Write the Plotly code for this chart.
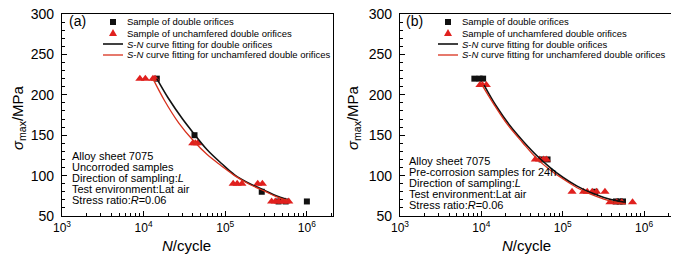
import plotly.graph_objects as go

W, H = 679, 264
OFF = 8  # page body margin of the browser
FONT = "Liberation Sans, Arial, sans-serif"
BLACK = "#111111"
RED_M = "#e0201e"
RED_L = "#d8301c"

# ---------------- data: panel (a) uncorroded ----------------
a_sq_N = [1.45e4, 4.2e4, 2.8e5, 4.5e5, 5.5e5, 1.0e6]
a_sq_S = [220, 150, 80, 68, 68, 68]
a_tri_N = [9.0e3, 1.05e4, 1.3e4, 1.38e4, 4.0e4, 4.3e4, 4.6e4,
           1.25e5, 1.4e5, 1.6e5, 2.5e5, 2.85e5,
           3.7e5, 4.1e5, 4.5e5, 5.0e5, 5.5e5, 6.0e5]
a_tri_S = [220, 220, 220, 220, 140, 140, 140,
           90, 90, 90, 90, 90,
           68, 68, 68, 68, 68, 68]
a_fit1_N = [1.45e4, 2e4, 3e4, 4.2e4, 6e4, 9e4, 1.3e5, 2e5, 3e5, 4.2e5, 5.5e5]
a_fit1_S = [220, 196, 170, 151, 132, 115, 101, 90, 82, 75, 71]
a_fit2_N = [1.3e4, 1.8e4, 2.7e4, 4e4, 6e4, 9e4, 1.3e5, 2e5, 3e5, 4.2e5, 5.8e5]
a_fit2_S = [220, 193, 165, 144, 126, 112, 100, 89, 81, 74, 69]

# ---------------- data: panel (b) pre-corrosion 24h ----------------
b_sq_N = [8.2e3, 9.5e3, 1.05e4, 5.5e4, 6.5e4, 2.5e5, 4.5e5, 5.0e5, 5.5e5]
b_sq_S = [220, 220, 220, 120, 120, 80, 68, 68, 68]
b_tri_N = [9.6e3, 1.03e4, 1.15e4, 4.6e4, 5.2e4, 5.8e4, 6.3e4,
           1.3e5, 1.8e5, 2.0e5, 2.3e5, 2.6e5, 3.3e5,
           3.8e5, 4.6e5, 5.3e5, 7.2e5]
b_tri_S = [212, 212, 212, 120, 120, 120, 120,
           80, 80, 80, 80, 80, 80,
           67, 67, 67, 67]
b_fit1_N = [1.08e4, 1.5e4, 2.2e4, 3.3e4, 5e4, 7e4, 1e5, 1.5e5, 2.2e5, 3.2e5, 4.5e5, 5.8e5]
b_fit1_S = [212, 187, 163, 142, 123, 110, 98, 87, 79, 73, 69, 67]
b_fit2_N = [1.02e4, 1.45e4, 2.1e4, 3.2e4, 4.8e4, 6.8e4, 1e5, 1.5e5, 2.2e5, 3.2e5, 4.5e5, 5.8e5]
b_fit2_S = [212, 187, 163, 141, 121, 108, 96, 85, 77, 71, 67, 65]

x_ticks = [1e3, 1e4, 1e5, 1e6]
x_ticktext = ["10<sup>3</sup>", "10<sup>4</sup>", "10<sup>5</sup>", "10<sup>6</sup>"]
y_ticks = [50, 100, 150, 200, 250, 300]

legend_labels = ["Sample of double orifices",
                 "Sample of unchamfered double orifices",
                 "<i>S</i>-<i>N</i> curve fitting for double orifices",
                 "<i>S</i>-<i>N</i> curve fitting for unchamfered double orifices"]
info_a = ["Alloy sheet 7075", "Uncorroded samples", "Direction of sampling:<i>L</i>",
          "Test environment:Lat air", "Stress ratio:<i>R</i>=0.06"]
info_b = ["Alloy sheet 7075", "Pre-corrosion samples for 24h", "Direction of sampling:<i>L</i>",
          "Test environment:Lat air", "Stress ratio:<i>R</i>=0.06"]

fig = go.Figure()

def add_panel(xa, ya, sqN, sqS, trN, trS, f1N, f1S, f2N, f2S):
    fig.add_trace(go.Scatter(x=sqN, y=sqS, mode="markers", xaxis=xa, yaxis=ya,
                             marker=dict(symbol="square", size=6, color=BLACK), showlegend=False))
    fig.add_trace(go.Scatter(x=trN, y=trS, mode="markers", xaxis=xa, yaxis=ya,
                             marker=dict(symbol="triangle-up", size=8, color=RED_M), showlegend=False))
    fig.add_trace(go.Scatter(x=f1N, y=f1S, mode="lines", xaxis=xa, yaxis=ya,
                             line=dict(color=BLACK, width=1.6, shape="spline"), showlegend=False))
    fig.add_trace(go.Scatter(x=f2N, y=f2S, mode="lines", xaxis=xa, yaxis=ya,
                             line=dict(color=RED_L, width=1.3, shape="spline"), showlegend=False))

add_panel("x", "y", a_sq_N, a_sq_S, a_tri_N, a_tri_S, a_fit1_N, a_fit1_S, a_fit2_N, a_fit2_S)
add_panel("x2", "y2", b_sq_N, b_sq_S, b_tri_N, b_tri_S, b_fit1_N, b_fit1_S, b_fit2_N, b_fit2_S)

def xaxis_cfg(domain, rng):
    return dict(domain=domain, type="log", range=rng, tickvals=x_ticks, ticktext=x_ticktext,
                ticks="inside", ticklen=5, tickwidth=1, tickcolor="black",
                minor=dict(ticks="inside", ticklen=3, tickwidth=1, tickcolor="black", dtick="D1"),
                showline=True, linecolor="black", linewidth=1.3, mirror=True,
                showgrid=False, zeroline=False, automargin=False, ticklabeloverflow="allow",
                tickfont=dict(family=FONT, size=12, color="black"))

def yaxis_cfg(domain, anchor):
    return dict(domain=domain, anchor=anchor, range=[50, 300], tickvals=y_ticks,
                ticks="inside", ticklen=5, tickwidth=1, tickcolor="black",
                minor=dict(ticks="inside", ticklen=3, tickwidth=1, tickcolor="black", dtick=10),
                showline=True, linecolor="black", linewidth=1.3, mirror=True,
                showgrid=False, zeroline=False, ticklabelstandoff=4, automargin=False,
                ticklabeloverflow="allow",
                tickfont=dict(family=FONT, size=14, color="black"))

def xd(a, b):
    return [(a - OFF) / W, (b - OFF) / W]

ydom = [1 - (216 - OFF) / H, 1 - (14 - OFF) / H]
fig.update_layout(
    width=W, height=H, margin=dict(l=0, r=0, t=0, b=0, autoexpand=False),
    paper_bgcolor="white", plot_bgcolor="white",
    font=dict(family=FONT, color="black"),
    xaxis=dict(xaxis_cfg(xd(62, 333), [3, 6.32]), anchor="y"),
    yaxis=yaxis_cfg(ydom, "x"),
    xaxis2=dict(xaxis_cfg(xd(400, 671), [3, 6.33]), anchor="y2"),
    yaxis2=yaxis_cfg(ydom, "x2"),
)

ann = []
shapes = []

def px(x, y):
    return (x - OFF) / W, 1 - (y - OFF) / H

def text(x, y, s, size, xanchor="left", angle=0):
    xx, yy = px(x, y)
    ann.append(dict(xref="paper", yref="paper", x=xx, y=yy, text=s, showarrow=False,
                    xanchor=xanchor, yanchor="middle", textangle=angle,
                    font=dict(family=FONT, size=size, color="black")))

def legend(x0, y0):
    rows = [y0 + 11 * i for i in range(4)]
    s = 3
    a, b = px(x0 - s, rows[0] - s)
    c, d = px(x0 + s, rows[0] + s)
    shapes.append(dict(type="rect", xref="paper", yref="paper", x0=a, y0=d, x1=c, y1=b,
                       fillcolor=BLACK, line=dict(width=0)))
    p1 = px(x0 - 4, rows[1] + 3)
    p2 = px(x0 + 4, rows[1] + 3)
    p3 = px(x0, rows[1] - 4)
    shapes.append(dict(type="path", xref="paper", yref="paper",
                       path=f"M {p1[0]} {p1[1]} L {p2[0]} {p2[1]} L {p3[0]} {p3[1]} Z",
                       fillcolor=RED_M, line=dict(width=0)))
    for r, col, w in [(rows[2], BLACK, 1.6), (rows[3], RED_L, 1.3)]:
        a, b = px(x0 - 10, r)
        c, d = px(x0 + 10, r)
        shapes.append(dict(type="line", xref="paper", yref="paper", x0=a, y0=b, x1=c, y1=d,
                           line=dict(color=col, width=w)))
    for r, lab in zip(rows, legend_labels):
        text(x0 + 12, r, lab, 9.5)

legend(113, 22)
legend(448, 22)

for i, s in enumerate(info_a):
    text(70, 156 + 11 * i, s, 11)
for i, s in enumerate(info_b):
    text(407, 161 + 11 * i, s, 11)

text(67, 21, "(a)", 14)
text(404, 21, "(b)", 14)

text(186, 245, "<i>N</i>/cycle", 15, xanchor="center")
text(526, 245, "<i>N</i>/cycle", 15, xanchor="center")
text(18, 118, "<i>σ</i><sub>max</sub>/MPa", 15, xanchor="center", angle=-90)
text(353, 118, "<i>σ</i><sub>max</sub>/MPa", 15, xanchor="center", angle=-90)

fig.update_layout(annotations=ann, shapes=shapes)
fig.write_html("out.html")
